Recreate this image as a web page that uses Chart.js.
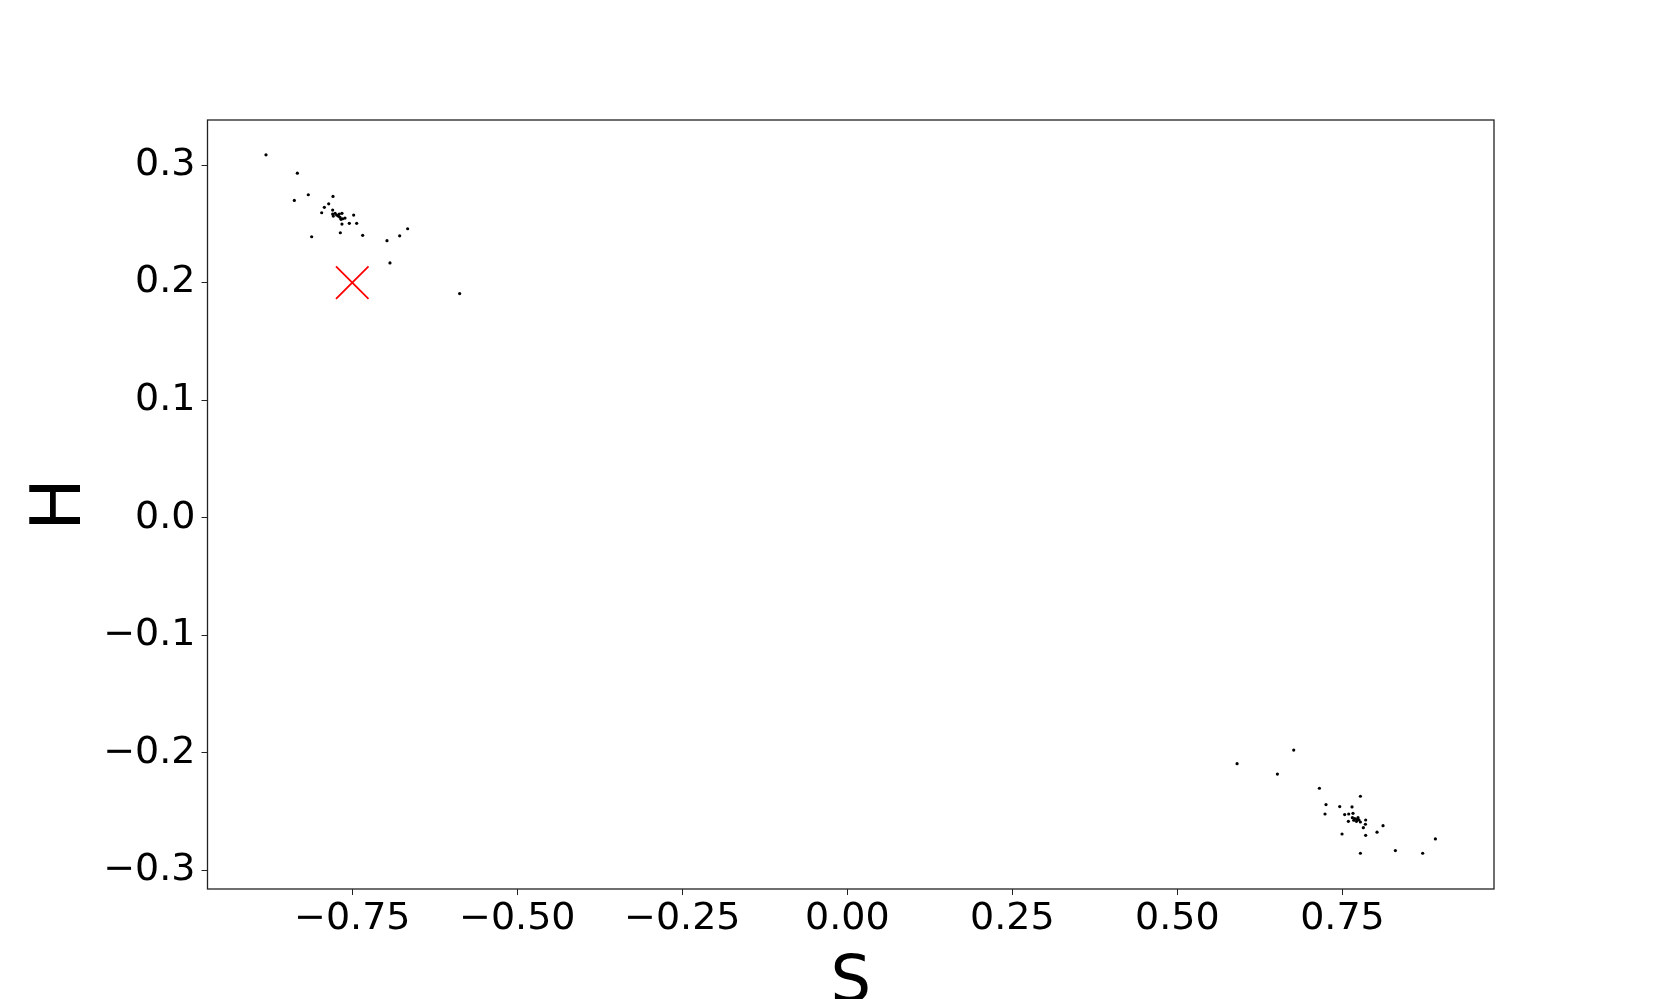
<!DOCTYPE html>
<html>
<head>
<meta charset="utf-8">
<script src="https://cdn.jsdelivr.net/npm/chart.js@4"></script>
<style>
  html, body { margin: 0; padding: 0; background: #fff; }
  #wrap { width: 1660px; height: 999px; }
</style>
</head>
<body>
<div id="wrap"><canvas id="scatterChart" width="1660" height="999"></canvas></div>
<script>
// upper-left cluster
const sLeft = [-0.8807, -0.8332, -0.8166, -0.8378, -0.7792, -0.7857, -0.7923, -0.7963, -0.7797,
  -0.7797, -0.7760, -0.7736, -0.7711, -0.7686, -0.7656, -0.7645, -0.7610, -0.7787, -0.7697, -0.7670,
  -0.7479, -0.7656, -0.7545, -0.7433, -0.8115, -0.7681, -0.7342, -0.6974, -0.6782, -0.6661, -0.6929, -0.5873];
const hLeft = [0.3087, 0.2931, 0.2747, 0.2699, 0.2733, 0.2670, 0.2640, 0.2594, 0.2617,
  0.2583, 0.2589, 0.2574, 0.2566, 0.2555, 0.2589, 0.2543, 0.2549, 0.2566, 0.2583, 0.2538,
  0.2574, 0.2498, 0.2504, 0.2504, 0.2390, 0.2424, 0.2402, 0.2356, 0.2398, 0.2458, 0.2167, 0.1906];

// lower-right cluster
const sRight = [0.5904, 0.6762, 0.6515, 0.7151, 0.7772, 0.7251, 0.7236, 0.7459, 0.7645, 0.7534,
  0.7595, 0.7660, 0.7590, 0.7651, 0.7686, 0.7721, 0.7751, 0.7712, 0.7772, 0.7671, 0.7736,
  0.7852, 0.7848, 0.7817, 0.8115, 0.8024, 0.7852, 0.7494, 0.7772, 0.8302, 0.8716, 0.8908];
const hRight = [-0.2093, -0.1977, -0.2181, -0.2302, -0.2370, -0.2441, -0.2521, -0.2458, -0.2461, -0.2526,
  -0.2521, -0.2515, -0.2583, -0.2552, -0.2560, -0.2566, -0.2572, -0.2583, -0.2589, -0.2574, -0.2552,
  -0.2572, -0.2608, -0.2637, -0.2620, -0.2676, -0.2702, -0.2691, -0.2855, -0.2832, -0.2855, -0.2733];

// red cross
const markS = [-0.75];
const markH = [0.2];

const xTicks = [-0.75, -0.5, -0.25, 0, 0.25, 0.5, 0.75];
const yTicks = [-0.3, -0.2, -0.1, 0, 0.1, 0.2, 0.3];

function toPoints(xs, ys) {
  return xs.map((x, i) => ({ x: x, y: ys[i] }));
}

function fmt(v, digits) {
  const s = Math.abs(v).toFixed(digits);
  return (v < -1e-9 ? '\u2212' : '') + s;
}

// Box around plot area (all four spines)
const frame = {
  id: 'frame',
  afterDraw(chart) {
    const a = chart.chartArea;
    const ctx = chart.ctx;
    ctx.save();
    ctx.strokeStyle = '#222';
    ctx.lineWidth = 1.3;
    ctx.strokeRect(a.left, a.top, a.right - a.left, a.bottom - a.top);
    ctx.restore();
  }
};

document.addEventListener('DOMContentLoaded', function() {
  const ctx = document.getElementById('scatterChart').getContext('2d');
  new Chart(ctx, {
    type: 'scatter',
    data: {
      datasets: [{
        data: toPoints(sLeft.concat(sRight), hLeft.concat(hRight)),
        backgroundColor: '#000',
        borderWidth: 0,
        pointRadius: 1.6
      }, {
        data: toPoints(markS, markH),
        pointStyle: 'crossRot',
        pointRadius: 23,
        borderColor: '#ff0000',
        backgroundColor: '#ff0000',
        borderWidth: 1.8
      }]
    },
    options: {
      responsive: false,
      animation: false,
      events: [],
      layout: { padding: { top: 120, right: 166, bottom: 0, left: 0 } },
      plugins: { legend: { display: false }, tooltip: { enabled: false } },
      scales: {
        x: {
          type: 'linear',
          min: -0.9693,
          max: 0.9796,
          afterFit: function(scale) { scale.height = 110; },
          afterBuildTicks: function(scale) { scale.ticks = xTicks.map(v => ({ value: v })); },
          grid: { drawOnChartArea: false, tickLength: 6, tickColor: '#222', tickWidth: 1 },
          border: { display: false },
          ticks: {
            padding: 1,
            color: '#000',
            maxRotation: 0,
            font: { family: 'DejaVu Sans', size: 38 },
            callback: v => fmt(v, 2)
          },
          title: {
            display: true,
            text: 'S',
            color: '#000',
            padding: { top: 0, bottom: 0 },
            font: { family: 'DejaVu Sans', size: 64, lineHeight: 0.47 }
          }
        },
        y: {
          type: 'linear',
          min: -0.3159,
          max: 0.3383,
          afterFit: function(scale) { scale.width = 207.5; },
          afterBuildTicks: function(scale) { scale.ticks = yTicks.map(v => ({ value: v })); },
          grid: { drawOnChartArea: false, tickLength: 6, tickColor: '#222', tickWidth: 1 },
          border: { display: false },
          ticks: {
            padding: 6,
            color: '#000',
            font: { family: 'DejaVu Sans', size: 38 },
            callback: v => fmt(v, 1)
          },
          title: {
            display: true,
            text: 'H',
            color: '#000',
            padding: { top: 20, bottom: 0 },
            font: { family: 'DejaVu Sans', size: 70, lineHeight: 1.2 }
          }
        }
      }
    },
    plugins: [frame]
  });
});
</script>
</body>
</html>
